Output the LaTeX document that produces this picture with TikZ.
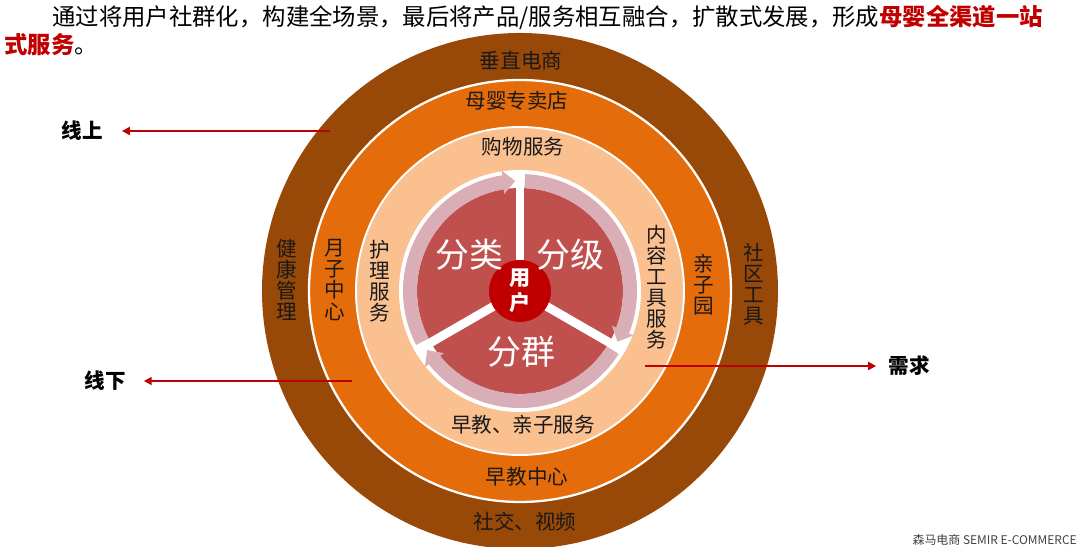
\documentclass[tikz,border=0pt]{standalone}
\usepackage{fontspec}
\setmainfont{Noto Sans CJK SC}
\usetikzlibrary{arrows.meta,bending}

\definecolor{ringbrown}{HTML}{984807}
\definecolor{ringorange}{HTML}{E46C0A}
\definecolor{ringpeach}{HTML}{FAC090}
\definecolor{coremauve}{HTML}{D9AEB6}
\definecolor{corered}{HTML}{C0504D}
\definecolor{userred}{HTML}{C00000}

\tikzset{
  ringlabel/.style={font=\fontsize{11.7}{12}\selectfont, text=black!90, inner sep=0pt},
  vlabel/.style={ringlabel, align=center},
  corelabel/.style={font=\fontsize{19.3}{20}\selectfont, text=white, inner sep=0pt},
  sidelabel/.style={font=\fontsize{11.7}{12}\selectfont\bfseries, inner sep=0pt},
  flow/.style={draw=userred, line width=1.1pt, -{Triangle[length=4.5pt,width=4.5pt]}},
  cyclearrow/.style={draw=coremauve, line width=8pt, -{Triangle[length=7pt,width=13pt]}},
  spoke/.style={draw=white, line width=5pt},
}

\begin{document}
\begin{tikzpicture}[x=0.02cm, y=0.02cm]
    \useasboundingbox (0,0) rectangle (1080,547);
    \coordinate (C) at (520,256);

    \fill[ringbrown] (C) circle[radius=258];
    \filldraw[fill=ringorange, draw=white, line width=1.3pt] (C) circle[radius=211];
    \filldraw[fill=ringpeach, draw=white, line width=1.1pt] (C) circle[radius=164];
    \fill[white] (C) circle[radius=121];
    \fill[corered] (C) circle[radius=103];

    \draw[cyclearrow] (C) ++(207.5:110) arc[start angle=207.5, end angle=92.5, radius=110];
    \draw[cyclearrow] (C) ++(87.5:110) arc[start angle=87.5, end angle=-27.5, radius=110];
    \draw[cyclearrow] (C) ++(-32.5:110) arc[start angle=-32.5, end angle=-147.5, radius=110];

    \draw[spoke] (C) -- ++(90:121);
    \draw[spoke] (C) -- ++(210:121);
    \draw[spoke] (C) -- ++(-30:121);

    \node[circle, fill=userred, minimum size=1.24cm, inner sep=0pt, text=white,
          font=\fontsize{12}{14}\selectfont\bfseries, align=center] (user) at (C) {用\\户};

    \node[corelabel] (sort)  at (469,292) {分类};
    \node[corelabel] (grade) at (570,292) {分级};
    \node[corelabel] (group) at (521,195) {分群};

    \node[ringlabel] (vertical) at (521,486) {垂直电商};
    \node[ringlabel] (shop)     at (517,446) {母婴专卖店};
    \node[ringlabel] (buy)      at (523,400) {购物服务};
    \node[ringlabel] (early)    at (523,122) {早教、亲子服务};
    \node[ringlabel] (eduhub)   at (527,70)  {早教中心};
    \node[ringlabel] (social)   at (525,25)  {社交、视频};

    \node[vlabel] (health)  at (287,267) {健\\康\\管\\理};
    \node[vlabel] (confine) at (335,267) {月\\子\\中\\心};
    \node[vlabel] (care)    at (380,266) {护\\理\\服\\务};
    \node[vlabel] (content) at (657,260) {内\\容\\工\\具\\服\\务};
    \node[vlabel] (kinder)  at (704,262) {亲\\子\\园};
    \node[vlabel] (tools)   at (754,263) {社\\区\\工\\具};

    \node[sidelabel] (online)  at (82,416)  {线上};
    \node[sidelabel] (offline) at (105,166) {线下};
    \node[sidelabel] (demand)  at (909,181) {需求};
    \coordinate (onlineFrom)  at (330,416);
    \coordinate (offlineFrom) at (352,166);
    \coordinate (demandFrom)  at (645,181);
    \draw[flow, shorten >=10.8pt] (onlineFrom) -- (online);
    \draw[flow, shorten >=10.2pt] (offlineFrom) -- (offline);
    \draw[flow, shorten >=6.8pt] (demandFrom) -- (demand);

    \node[anchor=west, inner sep=0pt, font=\fontsize{13.3}{16}\selectfont] (lead) at (52,530)
        {通过将用户社群化，构建全场景，最后将产品/服务相互融合，扩散式发展，形成\textcolor{userred}{\textbf{母婴全渠道一站}}};
    \node[anchor=west, inner sep=0pt, font=\fontsize{13.3}{16}\selectfont] (leadtail) at (4,502)
        {\textcolor{userred}{\textbf{式服务}}。};

    \node[anchor=east, inner sep=0pt, font=\fontsize{6.8}{8}\selectfont, text=black!75] (brand) at (1077,7)
        {森马电商\ SEMIR E-COMMERCE};
\end{tikzpicture}
\end{document}
